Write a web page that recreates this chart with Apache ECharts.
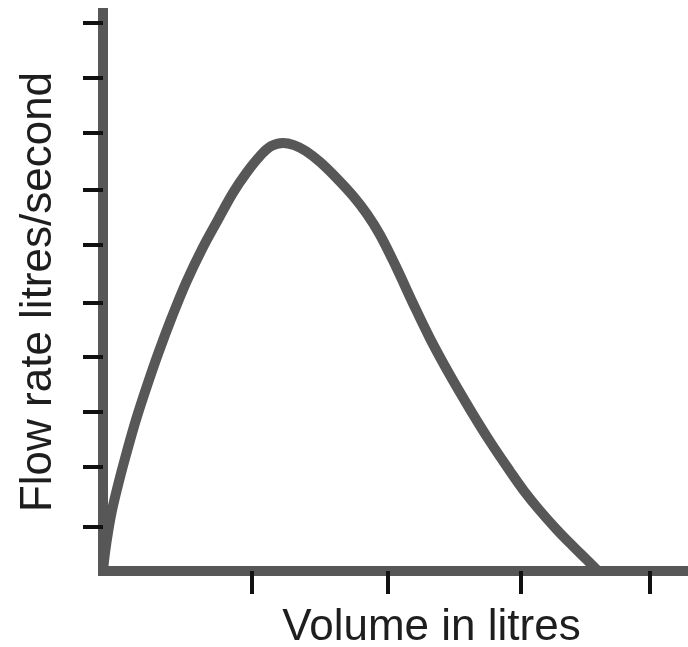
<!DOCTYPE html>
<html>
<head>
<meta charset="utf-8">
<script src="https://cdn.jsdelivr.net/npm/echarts@6/dist/echarts.min.js"></script>
<style>
    html, body { margin: 0; padding: 0; background: #fff; }
    #chart { width: 688px; height: 647px; }
</style>
</head>
<body>
<div id="chart"></div>
<script>
    // volume (litres) / flow (litres per second)
    var volume = [0, 0.015, 0.038, 0.068, 0.113, 0.173, 0.248, 0.335, 0.421, 0.519, 0.624, 0.744,
        0.865, 0.977, 1.083, 1.180, 1.263, 1.353, 1.436, 1.526, 1.632, 1.759, 1.880, 1.985,
        2.083, 2.203, 2.331, 2.459, 2.609, 2.759, 2.910, 3.060, 3.165, 3.278, 3.406, 3.526,
        3.639, 3.722];
    var flow = [0, 0.33, 0.71, 1.11, 1.57, 2.12, 2.76, 3.41, 4.01, 4.64, 5.26, 5.87,
        6.41, 6.90, 7.28, 7.57, 7.75, 7.81, 7.77, 7.66, 7.46, 7.16, 6.84, 6.51,
        6.13, 5.55, 4.88, 4.24, 3.57, 2.95, 2.36, 1.82, 1.46, 1.12, 0.77, 0.47,
        0.20, 0];
    var xTicks = [1.12, 2.14, 3.14, 4.11];
    var yTicks = [0.8, 1.9, 2.9, 3.9, 4.9, 5.95, 6.95, 8.0, 9.0, 10.0];

    var points = [];
    for (var i = 0; i < volume.length; i++) {
        points.push([volume[i], flow[i]]);
    }

    var chart = echarts.init(document.getElementById('chart'));
    var lineGrey = '#575757';
    var titleFont = {
        fontFamily: 'Liberation Sans',
        fontSize: 44,
        lineHeight: 44,
        color: '#1e1e1e'
    };

    var option = {
        animation: false,
        grid: { left: 103, right: 0, top: 13, bottom: 76, outerBoundsMode: 'none' },
        xAxis: {
            type: 'value',
            min: 0,
            max: 4.398,
            name: 'Volume in litres',
            nameLocation: 'middle',
            nameGap: 35,
            nameTextStyle: Object.assign({ padding: [0, 0, 0, 72] }, titleFont),
            splitLine: { show: false },
            axisLabel: { show: false },
            axisLine: { lineStyle: { color: lineGrey, width: 10, cap: 'square' } },
            axisTick: {
                show: true,
                customValues: xTicks,
                length: 23,
                lineStyle: { color: '#111', width: 4 }
            }
        },
        yAxis: {
            type: 'value',
            min: 0,
            max: 10.18,
            name: 'Flow rate litres/second',
            nameLocation: 'middle',
            nameGap: 42,
            nameTextStyle: titleFont,
            splitLine: { show: false },
            axisLabel: { show: false },
            axisLine: { lineStyle: { color: lineGrey, width: 10, cap: 'square' } },
            axisTick: {
                show: true,
                customValues: yTicks,
                length: 20,
                lineStyle: { color: '#111', width: 4 }
            }
        },
        series: [{
            type: 'line',
            data: points,
            smooth: 0.35,
            showSymbol: false,
            lineStyle: { color: lineGrey, width: 10, cap: 'round', join: 'round' }
        }]
    };
    chart.setOption(option);
</script>
</body>
</html>
